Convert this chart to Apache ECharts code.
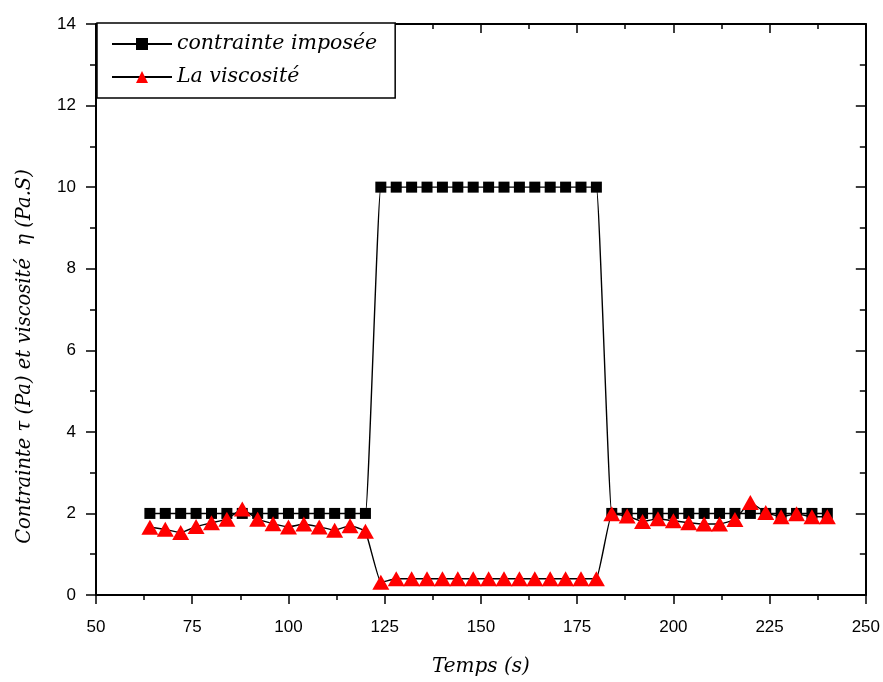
<!DOCTYPE html>
<html>
<head>
<meta charset="utf-8">
<title>Contrainte et viscosité</title>
<script src="https://cdn.jsdelivr.net/npm/echarts@6/dist/echarts.min.js"></script>
<style>
  html, body { margin: 0; padding: 0; background: #fff; }
  #chart { width: 883px; height: 682px; }
</style>
</head>
<body>
<div id="chart"></div>
<script>
// temps (s)
const temps = [
  64, 68, 72, 76, 80, 84, 88, 92, 96, 100, 104, 108, 112, 116, 120,
  124, 128, 132, 136, 140, 144, 148, 152, 156, 160, 164, 168, 172, 176, 180,
  184, 188, 192, 196, 200, 204, 208, 212, 216, 220, 224, 228, 232, 236, 240
]
// contrainte imposée (Pa)
const contrainte = [
  2, 2, 2, 2, 2, 2, 2, 2, 2, 2, 2, 2, 2, 2, 2,
  10, 10, 10, 10, 10, 10, 10, 10, 10, 10, 10, 10, 10, 10, 10,
  2, 2, 2, 2, 2, 2, 2, 2, 2, 2, 2, 2, 2, 2, 2
]
// viscosité (Pa.S)
const viscosite = [
  1.66, 1.61, 1.53, 1.68, 1.77, 1.86, 2.11, 1.86, 1.75, 1.67, 1.74, 1.67, 1.59, 1.70, 1.56,
  0.31, 0.40, 0.40, 0.40, 0.40, 0.40, 0.40, 0.40, 0.40, 0.40, 0.40, 0.40, 0.40, 0.40, 0.40,
  1.99, 1.94, 1.80, 1.87, 1.82, 1.77, 1.74, 1.74, 1.85, 2.27, 2.02, 1.92, 1.99, 1.92, 1.92
]
const xTicks = { min: 50, max: 250, step: 25 }
const yTicks = { min: 0, max: 14, step: 2 }

const serif = 'DejaVu Serif'
const sans = 'Liberation Sans'

const chart = echarts.init(document.getElementById('chart'))

const axisLine = { show: true, onZero: false, lineStyle: { color: '#000', width: 2 } }

chart.setOption({
  animation: false,
  backgroundColor: '#fff',
  grid: { left: 96, right: 17, top: 24, bottom: 85 },
  legend: {
    orient: 'vertical',
    left: 97,
    top: 23,
    padding: [11, 18, 11, 14],
    itemGap: 13,
    itemWidth: 60,
    itemHeight: 15,
    borderColor: '#000',
    borderWidth: 1.5,
    backgroundColor: '#fff',
    textStyle: { fontFamily: serif, fontStyle: 'italic', fontSize: 20.5, color: '#000' },
    data: ['contrainte imposée', 'La viscosité']
  },
  xAxis: [
    {
      type: 'value',
      position: 'bottom',
      min: xTicks.min,
      max: xTicks.max,
      interval: xTicks.step,
      axisLine: axisLine,
      axisTick: { length: 9, lineStyle: { color: '#000', width: 1.5 } },
      minorTick: { show: true, splitNumber: 2, length: 5, lineStyle: { color: '#000', width: 1.5 } },
      axisLabel: { margin: 24, fontFamily: sans, fontSize: 17, color: '#000' },
      splitLine: { show: false },
      name: 'Temps (s)',
      nameLocation: 'middle',
      nameGap: 62,
      nameTextStyle: { fontFamily: serif, fontStyle: 'italic', fontSize: 20, color: '#000' }
    },
    {
      type: 'value',
      position: 'top',
      min: xTicks.min,
      max: xTicks.max,
      interval: xTicks.step,
      axisLine: axisLine,
      axisTick: { inside: true, length: 9, lineStyle: { color: '#000', width: 1.5 } },
      minorTick: { show: true, splitNumber: 2, length: 5, lineStyle: { color: '#000', width: 1.5 } },
      axisLabel: { show: false },
      splitLine: { show: false }
    }
  ],
  yAxis: [
    {
      type: 'value',
      position: 'left',
      min: yTicks.min,
      max: yTicks.max,
      interval: yTicks.step,
      axisLine: axisLine,
      axisTick: { length: 10, lineStyle: { color: '#000', width: 1.5 } },
      minorTick: { show: true, splitNumber: 2, length: 6, lineStyle: { color: '#000', width: 1.5 } },
      axisLabel: { margin: 20, fontFamily: sans, fontSize: 17, color: '#000' },
      splitLine: { show: false },
      name: 'Contrainte τ (Pa) et viscosité  η (Pa.S)',
      nameLocation: 'middle',
      nameGap: 61,
      nameTextStyle: { fontFamily: serif, fontStyle: 'italic', fontSize: 19.5, color: '#000', padding: [0, 94, 0, 0] }
    },
    {
      type: 'value',
      position: 'right',
      min: yTicks.min,
      max: yTicks.max,
      interval: yTicks.step,
      axisLine: axisLine,
      axisTick: { inside: true, length: 10, lineStyle: { color: '#000', width: 1.5 } },
      minorTick: { show: true, splitNumber: 2, length: 6, lineStyle: { color: '#000', width: 1.5 } },
      axisLabel: { show: false },
      splitLine: { show: false }
    }
  ],
  series: [
    {
      name: 'contrainte imposée',
      type: 'line',
      xAxisIndex: 0,
      yAxisIndex: 0,
      smooth: 0.1,
      symbol: 'rect',
      symbolSize: 11,
      lineStyle: { color: '#000', width: 1.4 },
      itemStyle: { color: '#000' },
      data: temps.map((t, i) => [t, contrainte[i]])
    },
    {
      name: 'La viscosité',
      type: 'line',
      xAxisIndex: 0,
      yAxisIndex: 0,
      smooth: 0.1,
      symbol: 'triangle',
      symbolSize: [17, 15],
      lineStyle: { color: '#000', width: 1.4 },
      itemStyle: { color: '#ff0000' },
      data: temps.map((t, i) => [t, viscosite[i]])
    }
  ]
})
</script>
</body>
</html>
